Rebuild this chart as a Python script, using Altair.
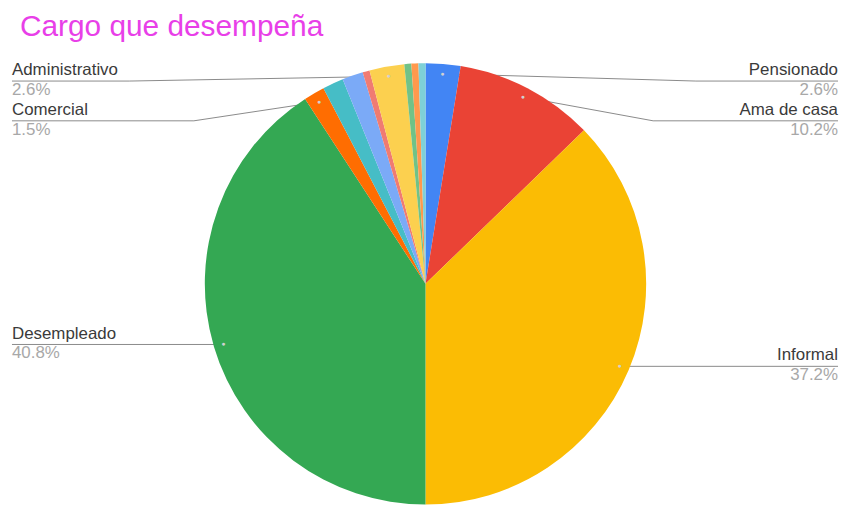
import math
import altair as alt
import pandas as pd

# ---- data ----
categories = ["Pensionado", "Ama de casa", "Informal", "Desempleado", "Comercial",
              "Docente", "Independiente", "Estudiante", "Administrativo",
              "Operario", "Conductor", "Otro"]
counts = [5, 20, 73, 80, 3, 3, 3, 1, 5, 1, 1, 1]
labeled = ["Pensionado", "Ama de casa", "Informal", "Desempleado", "Comercial", "Administrativo"]
title_text = "Cargo que desempeña"

# ---- styles / layout ----
colors = ["#4285F4", "#EA4335", "#FBBC04", "#34A853", "#FF6D01", "#46BDC6",
          "#7BAAF7", "#F07B72", "#FCD04F", "#71C287", "#FF994D", "#7ED1D7"]
W, H = 836, 498
CX, CY = 420, 276
R = 222
R_DOT = 212
FONT = "Liberation Sans"

# label layout: side, y of leader line, x of elbow (None = straight)
layout = {
    "Pensionado":     dict(side="right", line_y=72,  elbow_x=692),
    "Ama de casa":    dict(side="right", line_y=112, elbow_x=649),
    "Informal":       dict(side="right", line_y=359, elbow_x=None),
    "Desempleado":    dict(side="left",  line_y=337, elbow_x=None),
    "Comercial":      dict(side="left",  line_y=112, elbow_x=187),
    "Administrativo": dict(side="left",  line_y=72,  elbow_x=122),
}
LEFT_X, RIGHT_X = 4, 835

total = sum(counts)
df = pd.DataFrame({
    "cat": categories,
    "count": counts,
    "idx": list(range(len(categories))),
})
df["pct"] = [f"{100 * c / total:.1f}%" for c in counts]
df["lbl"] = [c in labeled for c in categories]

# leader-line geometry derived from the data's slice angles
seg_rows, lab_rows = [], []
cum = 0
for cat, c in zip(categories, counts):
    mid = (cum + c / 2) / total
    cum += c
    if cat not in layout:
        continue
    a = 2 * math.pi * mid
    dx = CX + R_DOT * math.sin(a)
    dy = CY - R_DOT * math.cos(a)
    L = layout[cat]
    end_x = RIGHT_X if L["side"] == "right" else LEFT_X
    ex = L["elbow_x"] if L["elbow_x"] is not None else dx
    seg_rows.append(dict(x=dx, y=dy, x2=ex, y2=L["line_y"]))
    seg_rows.append(dict(x=ex, y=L["line_y"], x2=end_x, y2=L["line_y"]))
    lab_rows.append(dict(cat=cat, pct=f"{100 * c / total:.1f}%", x=end_x,
                         y_name=L["line_y"] - 6, y_pct=L["line_y"] + 14,
                         side=L["side"]))

segs = pd.DataFrame(seg_rows)
labs = pd.DataFrame(lab_rows)

lines = alt.Chart(segs).mark_rule(color="#8a8a8a", strokeWidth=1).encode(
    x=alt.X("x:Q", scale=None), y=alt.Y("y:Q", scale=None),
    x2="x2:Q", y2="y2:Q",
)

base = alt.Chart(df).encode(
    theta=alt.Theta("count:Q", stack=True),
    order=alt.Order("idx:Q", sort="ascending"),
)

pie = base.mark_arc(outerRadius=R).encode(
    x=alt.value(CX), y=alt.value(CY),
    color=alt.Color("cat:N", scale=alt.Scale(domain=categories, range=colors), legend=None),
)

dots = base.mark_text(radius=R_DOT, fontSize=7, color="#d0d0d0", align="center",
                      baseline="middle").encode(
    x=alt.value(CX), y=alt.value(CY),
    text=alt.condition("datum.lbl", alt.value("●"), alt.value("")),
)

left = labs[labs.side == "left"]
right = labs[labs.side == "right"]

def label_layers(d, align):
    names = alt.Chart(d).mark_text(align=align, baseline="alphabetic", font=FONT,
                                   fontSize=17, color="#3a3a3a").encode(
        x=alt.X("x:Q", scale=None), y=alt.Y("y_name:Q", scale=None), text="cat:N")
    pcts = alt.Chart(d).mark_text(align=align, baseline="alphabetic", font=FONT,
                                  fontSize=17, color="#a8a8a8").encode(
        x=alt.X("x:Q", scale=None), y=alt.Y("y_pct:Q", scale=None), text="pct:N")
    return names + pcts

title = alt.Chart(pd.DataFrame({"t": [title_text]})).mark_text(
    align="left", baseline="alphabetic", font=FONT, fontSize=30, color="#e83fe8"
).encode(x=alt.value(12), y=alt.value(27), text="t:N")

chart = alt.layer(
    lines, pie, dots, label_layers(left, "left"), label_layers(right, "right"), title
).properties(
    width=W, height=H,
    autosize=alt.AutoSizeParams(type="none"),
    padding=0,
).configure_view(stroke=None)

chart.save("out.html", embed_options={"renderer": "svg", "actions": False})
